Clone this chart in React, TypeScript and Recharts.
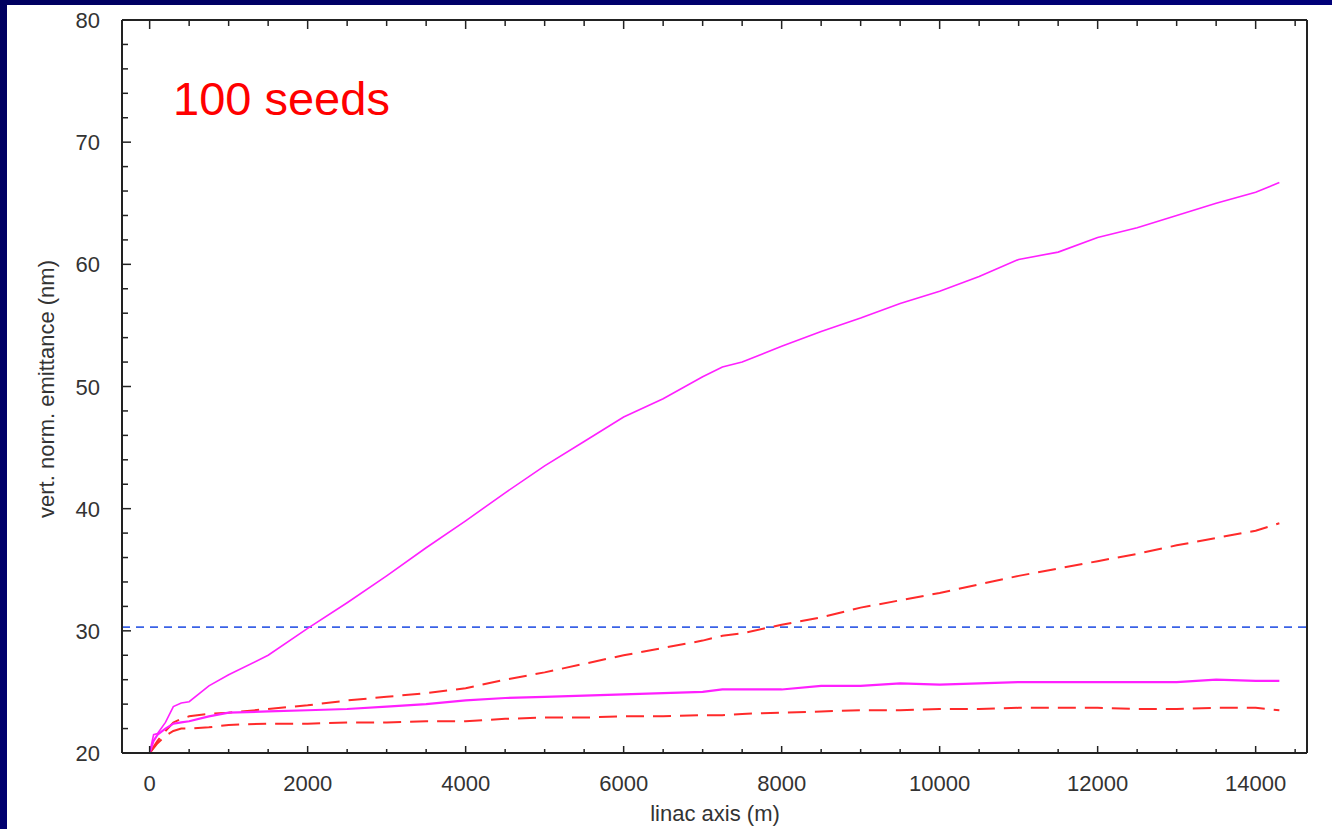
import { LineChart, Line, XAxis, YAxis, ReferenceLine } from 'recharts'

// linac position (m)
const positions = [
  0, 50, 100, 200, 300, 400, 500, 750, 1000, 1500, 2000, 2500, 3000, 3500, 4000, 4500,
  5000, 5500, 6000, 6500, 7000, 7250, 7500, 8000, 8500, 9000, 9500, 10000, 10500, 11000,
  11500, 12000, 12500, 13000, 13500, 14000, 14300,
]

// vertical normalised emittance (nm)
const magentaUpper = [
  20.0, 21.5, 21.6, 22.5, 23.8, 24.1, 24.2, 25.5, 26.4, 28.0, 30.2, 32.3, 34.5, 36.8, 39.0, 41.3,
  43.5, 45.5, 47.5, 49.0, 50.8, 51.6, 52.0, 53.3, 54.5, 55.6, 56.8, 57.8, 59.0, 60.4,
  61.0, 62.2, 63.0, 64.0, 65.0, 65.9, 66.7,
]
const magentaLower = [
  20.0, 21.0, 21.5, 22.0, 22.4, 22.5, 22.6, 23.0, 23.3, 23.4, 23.5, 23.6, 23.8, 24.0, 24.3, 24.5,
  24.6, 24.7, 24.8, 24.9, 25.0, 25.2, 25.2, 25.2, 25.5, 25.5, 25.7, 25.6, 25.7, 25.8,
  25.8, 25.8, 25.8, 25.8, 26.0, 25.9, 25.9,
]
const redUpper = [
  20.0, 20.5, 21.0, 21.8, 22.5, 22.8, 23.0, 23.2, 23.3, 23.6, 23.9, 24.3, 24.6, 24.9, 25.3, 26.0,
  26.6, 27.3, 28.0, 28.6, 29.2, 29.6, 29.8, 30.5, 31.1, 31.9, 32.5, 33.1, 33.8, 34.5,
  35.1, 35.7, 36.3, 37.0, 37.6, 38.2, 38.8,
]
const redLower = [
  20.0, 20.4, 20.8, 21.4, 21.8, 22.0, 22.0, 22.1, 22.3, 22.4, 22.4, 22.5, 22.5, 22.6, 22.6, 22.8,
  22.9, 22.9, 23.0, 23.0, 23.1, 23.1, 23.2, 23.3, 23.4, 23.5, 23.5, 23.6, 23.6, 23.7,
  23.7, 23.7, 23.6, 23.6, 23.7, 23.7, 23.5,
]

const threshold = 30.3

const xTicks = Array.from({ length: 30 }, (_, i) => i * 500)
const yTicks = Array.from({ length: 31 }, (_, i) => 20 + i * 2)

const data = positions.map((x, i) => ({
  x,
  mu: magentaUpper[i],
  ml: magentaLower[i],
  ru: redUpper[i],
  rl: redLower[i],
}))

const FONT = '"Liberation Sans", Arial, sans-serif'
const AXIS = '#222'
const TEXT = '#333'

const BottomTick = (p: any) => {
  const v = p.payload.value
  const major = v % 2000 === 0
  const ay = p.y - 30
  return (
    <g>
      <line x1={p.x} x2={p.x} y1={ay} y2={ay - (major ? 7 : 4)} stroke={AXIS} strokeWidth={1.5} />
      {major && (
        <text x={p.x} y={p.y} dy={8} textAnchor="middle" fontSize={22} fill={TEXT} fontFamily={FONT}>{v}</text>
      )}
    </g>
  )
}

const TopTick = (p: any) => {
  const major = p.payload.value % 2000 === 0
  const ay = p.y + 1
  return <line x1={p.x} x2={p.x} y1={ay} y2={ay + (major ? 8 : 5)} stroke={AXIS} strokeWidth={1.5} />
}

const LeftTick = (p: any) => {
  const v = p.payload.value
  const major = v % 10 === 0
  const ax = p.x + 22
  return (
    <g>
      <line x1={ax} x2={ax + (major ? 9 : 6)} y1={p.y} y2={p.y} stroke={AXIS} strokeWidth={1.5} />
      {major && (
        <text x={p.x} y={p.y} dy={8} textAnchor="end" fontSize={22} fill={TEXT} fontFamily={FONT}>{v}</text>
      )}
    </g>
  )
}

const RightTick = (p: any) => {
  const major = p.payload.value % 10 === 0
  const ax = p.x - 1
  return <line x1={ax} x2={ax - (major ? 9 : 6)} y1={p.y} y2={p.y} stroke={AXIS} strokeWidth={1.5} />
}

export default function App() {
  return (
    <div style={{ position: 'absolute', left: 0, top: 0, width: 1332, height: 829, background: 'linear-gradient(135deg, #000060, #000088)', fontFamily: FONT }}>
      <div style={{ position: 'absolute', left: 7, top: 5, width: 1325, height: 824, background: '#fff' }}>
        <LineChart width={1325} height={824} data={data} margin={{ top: 14, right: 24, bottom: 0, left: 0 }}>
          <XAxis
            dataKey="x"
            type="number"
            domain={[-350, 14650]}
            ticks={xTicks}
            interval={0}
            height={76}
            tickSize={0}
            tickMargin={30}
            tick={<BottomTick />}
            axisLine={{ stroke: AXIS, strokeWidth: 2 }}
          />
          <XAxis
            xAxisId="top"
            orientation="top"
            dataKey="x"
            type="number"
            domain={[-350, 14650]}
            ticks={xTicks}
            interval={0}
            height={1}
            tickSize={0}
            tickMargin={0}
            tick={<TopTick />}
            axisLine={{ stroke: AXIS, strokeWidth: 2 }}
          />
          <YAxis
            type="number"
            domain={[20, 80]}
            ticks={yTicks}
            interval={0}
            width={115}
            tickSize={0}
            tickMargin={22}
            tick={<LeftTick />}
            axisLine={{ stroke: AXIS, strokeWidth: 2 }}
          />
          <YAxis
            yAxisId="right"
            orientation="right"
            type="number"
            domain={[20, 80]}
            ticks={yTicks}
            interval={0}
            width={1}
            tickSize={0}
            tickMargin={0}
            tick={<RightTick />}
            axisLine={{ stroke: AXIS, strokeWidth: 2 }}
          />
          <ReferenceLine y={threshold} stroke="#3a62e6" strokeWidth={1.6} strokeDasharray="8 6" />
          <Line dataKey="rl" stroke="#ff2a2a" strokeWidth={2} strokeDasharray="18 9" dot={false} isAnimationActive={false} />
          <Line dataKey="ru" stroke="#ff2a2a" strokeWidth={2} strokeDasharray="18 9" dot={false} isAnimationActive={false} />
          <Line dataKey="ml" stroke="#ff20ff" strokeWidth={2.2} dot={false} isAnimationActive={false} />
          <Line dataKey="mu" stroke="#ff20ff" strokeWidth={1.6} dot={false} isAnimationActive={false} />
        </LineChart>
        <span style={{ position: 'absolute', left: 166, top: 70, fontSize: 47, color: '#ff0000', lineHeight: 1, whiteSpace: 'nowrap' }}>100 seeds</span>
        <span style={{ position: 'absolute', left: 708, top: 798, transform: 'translateX(-50%)', fontSize: 22, color: TEXT, whiteSpace: 'nowrap', lineHeight: 1 }}>linac axis (m)</span>
        <span style={{ position: 'absolute', left: 40, top: 384, transform: 'translate(-50%, -50%) rotate(-90deg)', fontSize: 22, color: TEXT, whiteSpace: 'nowrap', lineHeight: 1 }}>vert. norm. emittance (nm)</span>
      </div>
    </div>
  )
}
